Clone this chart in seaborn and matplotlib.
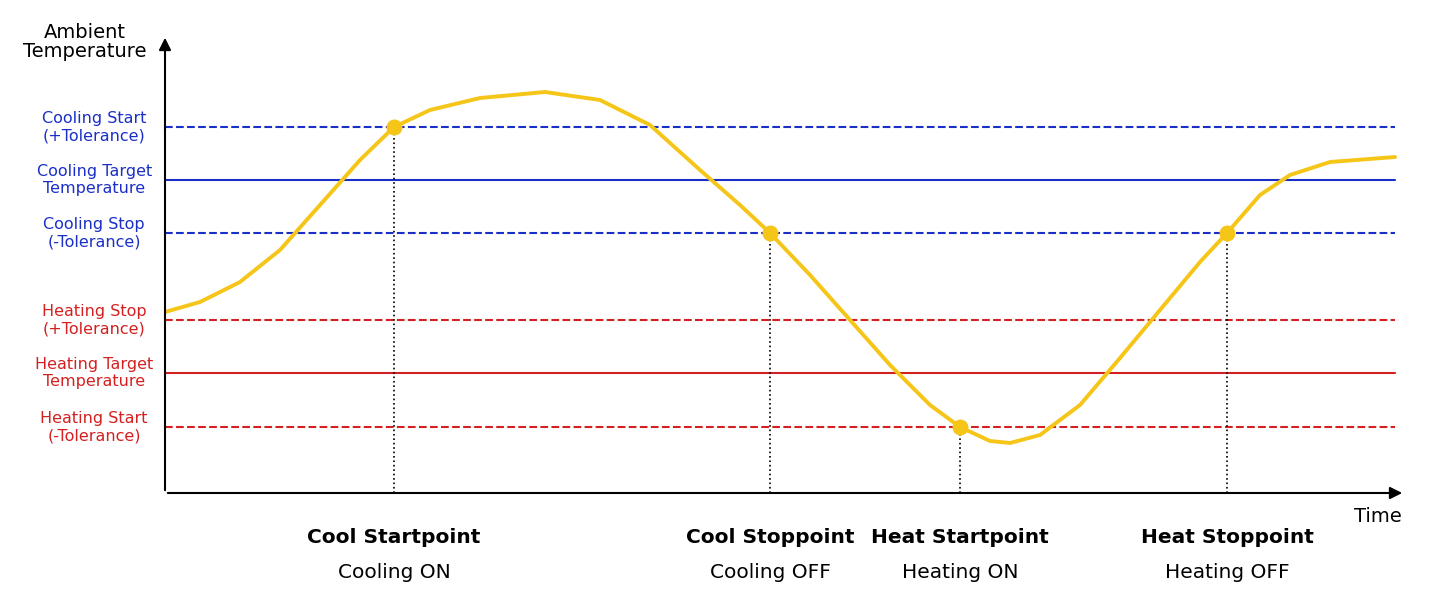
import matplotlib
matplotlib.use("Agg")
import matplotlib.pyplot as plt
import seaborn as sns
import pandas as pd

sns.set_theme(style="white")
plt.rcParams["font.family"] = ["DejaVu Sans"]
plt.rcParams["text.color"] = "black"

# Threshold levels (arbitrary temperature units)
level_names = ["Cooling Start\n(+Tolerance)", "Cooling Target\nTemperature", "Cooling Stop\n(-Tolerance)",
               "Heating Stop\n(+Tolerance)", "Heating Target\nTemperature", "Heating Start\n(-Tolerance)"]
level_values = [366, 313, 260, 173, 120, 66]
level_colors = ["#1a2fc8", "#1a2fc8", "#1a2fc8", "#d42020", "#d42020", "#d42020"]
level_styles = ["--", "-", "--", "--", "-", "--"]

# Ambient temperature curve
curve_t = [0, 35, 75, 115, 155, 195, 229, 265, 315, 380, 435, 485, 535, 575, 605, 645, 685,
           725, 765, 795, 825, 845, 875, 915, 955, 995, 1035, 1062, 1095, 1125, 1165, 1230]
curve_temp = [181, 191, 211, 243, 288, 333, 366, 383, 395, 401, 393, 368, 323, 288, 260, 218,
              173, 128, 88, 66, 52, 50, 58, 88, 135, 183, 231, 260, 298, 318, 331, 336]

# Switching events
event_t = [229, 605, 795, 1062]
event_temp = [366, 260, 66, 260]
event_titles = ["Cool Startpoint", "Cool Stoppoint", "Heat Startpoint", "Heat Stoppoint"]
event_subs = ["Cooling ON", "Cooling OFF", "Heating ON", "Heating OFF"]

fig = plt.figure(figsize=(14.48, 6.02), dpi=100)
ax = fig.add_axes([165 / 1448, 109 / 602, 1240 / 1448, 458 / 602])
ax.set_xlim(0, 1240)
ax.set_ylim(0, 458)
for s in ax.spines.values():
    s.set_visible(False)
ax.set_xticks([])
ax.set_yticks([])

for name, v, c, ls in zip(level_names, level_values, level_colors, level_styles):
    ax.plot([0, 1230], [v, v], color=c, ls=ls, lw=1.5, zorder=1)
    ax.annotate(name, xy=(0, v), xytext=(-51, 0), textcoords="offset points", color=c,
                ha="center", va="center", fontsize=11.5, annotation_clip=False)

for t, v in zip(event_t, event_temp):
    ax.plot([t, t], [0, v], color="black", ls=":", lw=1.2, zorder=1)

df = pd.DataFrame({"t": curve_t, "temp": curve_temp})
sns.lineplot(data=df, x="t", y="temp", color="#f5c518", lw=2.8, ax=ax, zorder=3)
ax.scatter(event_t, event_temp, s=110, color="#f5c518", zorder=4)
ax.set_xlabel("")
ax.set_ylabel("")

# axes arrows
arrow = dict(arrowstyle="-|>", color="black", lw=1.5, mutation_scale=18)
ax.annotate("", xy=(0, 458), xytext=(0, 0), arrowprops=arrow, annotation_clip=False)
ax.annotate("", xy=(1240, 0), xytext=(0, 0), arrowprops=arrow, annotation_clip=False)

fig.text(85 / 1448, 1 - 42 / 602, "Ambient\nTemperature", ha="center", va="center", fontsize=14, linespacing=1.0)
fig.text(1378 / 1448, 1 - 517 / 602, "Time", ha="center", va="center", fontsize=14)

for t, title, sub in zip(event_t, event_titles, event_subs):
    ax.annotate(title, xy=(t, 0), xytext=(0, -32), textcoords="offset points", ha="center", va="center",
                fontsize=14.5, fontweight="bold", annotation_clip=False)
    ax.annotate(sub, xy=(t, 0), xytext=(0, -57), textcoords="offset points", ha="center", va="center",
                fontsize=14.5, annotation_clip=False)

fig.savefig("out.png", dpi=100)
